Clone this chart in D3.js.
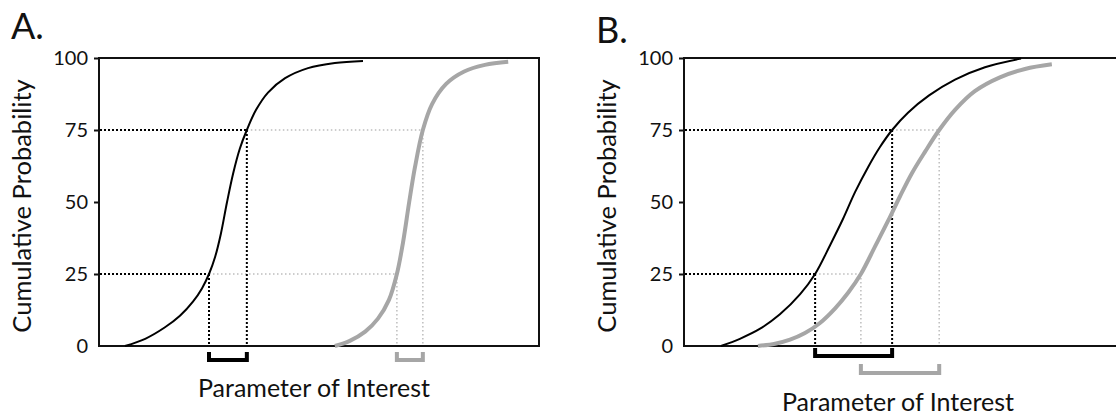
<!DOCTYPE html>
<html>
<head>
<meta charset="utf-8">
<script src="https://cdn.jsdelivr.net/npm/d3@7"></script>
<style>
  body { margin: 0; background: #fff; }
  text { font-family: Lato, "Open Sans", sans-serif; fill: #111; }
</style>
</head>
<body>
<div class="chart"></div>
<script>
// values (x in arbitrary parameter units 0-100, y in %)
var yTicks = [0, 25, 50, 75, 100];

var blackAx = [5.9, 10.5, 15.0, 18.4, 21.4, 23.4, 25.0, 26.4, 27.7, 29.1, 30.5, 32.0, 33.6, 35.7, 38.4, 42.3, 47.5, 53.6, 60.0];
var blackAy = [0, 2.5, 6.5, 10.5, 15.5, 20, 25, 31, 39, 50, 60, 68.5, 75, 82, 88, 93, 96.5, 98.3, 99];
var grayAx = [53.6, 57.0, 60.5, 63.4, 65.9, 67.7, 69.1, 70.5, 71.8, 73.6, 75.7, 78.9, 83.0, 87.7, 93.0];
var grayAy = [0, 1.8, 5, 9.5, 16, 25, 36, 50, 62, 75, 84, 91, 95.3, 97.6, 98.7];
var blackAq = [25.0, 33.6];
var grayAq = [67.7, 73.6];

var blackBx = [8.4, 12.7, 17.3, 21.8, 26.4, 29.8, 33.2, 36.1, 38.9, 41.8, 44.5, 47.3, 50.9, 55.7, 61.6, 68.4, 76.6];
var blackBy = [0, 2.5, 6, 11, 18, 25, 35, 44, 53.5, 62, 69, 75, 81, 87, 92.5, 96.8, 99.8];
var grayBx = [16.8, 20.7, 24.1, 27.5, 30.9, 34.3, 37.3, 40.2, 43.4, 46.4, 49.1, 51.8, 54.8, 58.0, 61.6, 66.1, 71.8, 77.5, 83.6];
var grayBy = [0, 0.8, 2.2, 4.5, 8, 13, 18.5, 25, 34.5, 43.5, 52, 60, 67.5, 75, 82, 88.5, 93.3, 96.2, 97.8];
var blackBq = [29.8, 47.3];
var grayBq = [40.2, 58.0];

var xLabel = "Parameter of Interest";
var yLabel = "Cumulative Probability";

var svgWidth = 1116;
var svgHeight = 416;

var black = "#000";
var gray = "#a6a6a6";
var lightGray = "#bdbdbd";

var svg = d3.select(".chart")
    .append("svg")
    .attr("width", svgWidth)
    .attr("height", svgHeight);

var yScale = d3.scaleLinear().domain([0, 100]).range([346, 58]);

function zip(xs, ys) {
    return xs.map(function (x, i) { return [x, ys[i]]; });
}

// draws one panel
function drawPanel(opt) {
    var xScale = d3.scaleLinear().domain([0, 100]).range([opt.left, opt.left + 440]);
    var g = svg.append("g");

    var line = d3.line()
        .x(d => xScale(d[0]))
        .y(d => yScale(d[1]))
        .curve(d3.curveCatmullRom.alpha(0.5));

    // frame
    g.append("rect")
        .attr("x", xScale(0))
        .attr("y", yScale(100))
        .attr("width", xScale(100) - xScale(0))
        .attr("height", yScale(0) - yScale(100))
        .attr("fill", "none")
        .attr("stroke", "#111")
        .attr("stroke-width", 2);

    // y axis
    var yAxis = g.append("g")
        .attr("transform", `translate(${xScale(0)},0)`)
        .call(d3.axisLeft(yScale).tickValues(yTicks).tickSize(5).tickPadding(6));
    yAxis.select(".domain").remove();
    yAxis.selectAll(".tick line").attr("stroke", "#111").attr("stroke-width", 2)
        .filter(d => d === 0).remove();
    yAxis.selectAll(".tick text")
        .attr("font-family", "Lato, sans-serif")
        .attr("font-size", 20)
        .attr("fill", "#111");

    // guide lines at the quartiles
    [[25, 0], [75, 1]].forEach(function (q) {
        var yq = yScale(q[0]);
        var xb = xScale(opt.blackQ[q[1]]);
        var xg = xScale(opt.grayQ[q[1]]);
        g.append("line")
            .attr("x1", xb).attr("x2", xg).attr("y1", yq).attr("y2", yq)
            .attr("stroke", lightGray).attr("stroke-width", 1.5).attr("stroke-dasharray", "1.5,2.5");
        g.append("line")
            .attr("x1", xg).attr("x2", xg).attr("y1", yq).attr("y2", yScale(0))
            .attr("stroke", lightGray).attr("stroke-width", 1.5).attr("stroke-dasharray", "1.5,2.5");
        g.append("line")
            .attr("x1", xScale(0) + 1).attr("x2", xb).attr("y1", yq).attr("y2", yq)
            .attr("stroke", black).attr("stroke-width", 2).attr("stroke-dasharray", "2,2");
        g.append("line")
            .attr("x1", xb).attr("x2", xb).attr("y1", yq).attr("y2", yScale(0))
            .attr("stroke", black).attr("stroke-width", 2).attr("stroke-dasharray", "2,2");
    });

    // curves
    g.append("path")
        .datum(zip(opt.grayX, opt.grayY))
        .attr("d", line)
        .attr("fill", "none")
        .attr("stroke", gray)
        .attr("stroke-width", 4);
    g.append("path")
        .datum(zip(opt.blackX, opt.blackY))
        .attr("d", line)
        .attr("fill", "none")
        .attr("stroke", black)
        .attr("stroke-width", 2);

    // brackets under the axis
    function bracket(q, top, bottom, color) {
        g.append("path")
            .attr("d", `M${xScale(q[0])},${top}V${bottom}H${xScale(q[1])}V${top}`)
            .attr("fill", "none")
            .attr("stroke", color)
            .attr("stroke-width", 4);
    }
    bracket(opt.blackQ, opt.blackBr[0], opt.blackBr[1], black);
    bracket(opt.grayQ, opt.grayBr[0], opt.grayBr[1], gray);

    // labels
    g.append("text")
        .attr("x", opt.letterX)
        .attr("y", opt.letterY)
        .attr("font-size", 36)
        .text(opt.letter);

    g.append("text")
        .attr("transform", `translate(${opt.yTitleX},${206}) rotate(-90)`)
        .attr("text-anchor", "middle")
        .attr("font-size", 25.5)
        .text(yLabel);

    g.append("text")
        .attr("x", opt.xTitleX)
        .attr("y", opt.xTitleY)
        .attr("text-anchor", "middle")
        .attr("font-size", 25)
        .text(xLabel);
}

drawPanel({
    left: 99, letter: "A.", letterX: 11, letterY: 39,
    yTitleX: 31, xTitleX: 314, xTitleY: 397,
    blackX: blackAx, blackY: blackAy, grayX: grayAx, grayY: grayAy,
    blackQ: blackAq, grayQ: grayAq,
    blackBr: [352, 360], grayBr: [352, 360]
});

drawPanel({
    left: 684, letter: "B.", letterX: 596, letterY: 43,
    yTitleX: 616, xTitleX: 898, xTitleY: 411,
    blackX: blackBx, blackY: blackBy, grayX: grayBx, grayY: grayBy,
    blackQ: blackBq, grayQ: grayBq,
    blackBr: [348, 356], grayBr: [364, 373]
});
</script>
</body>
</html>
